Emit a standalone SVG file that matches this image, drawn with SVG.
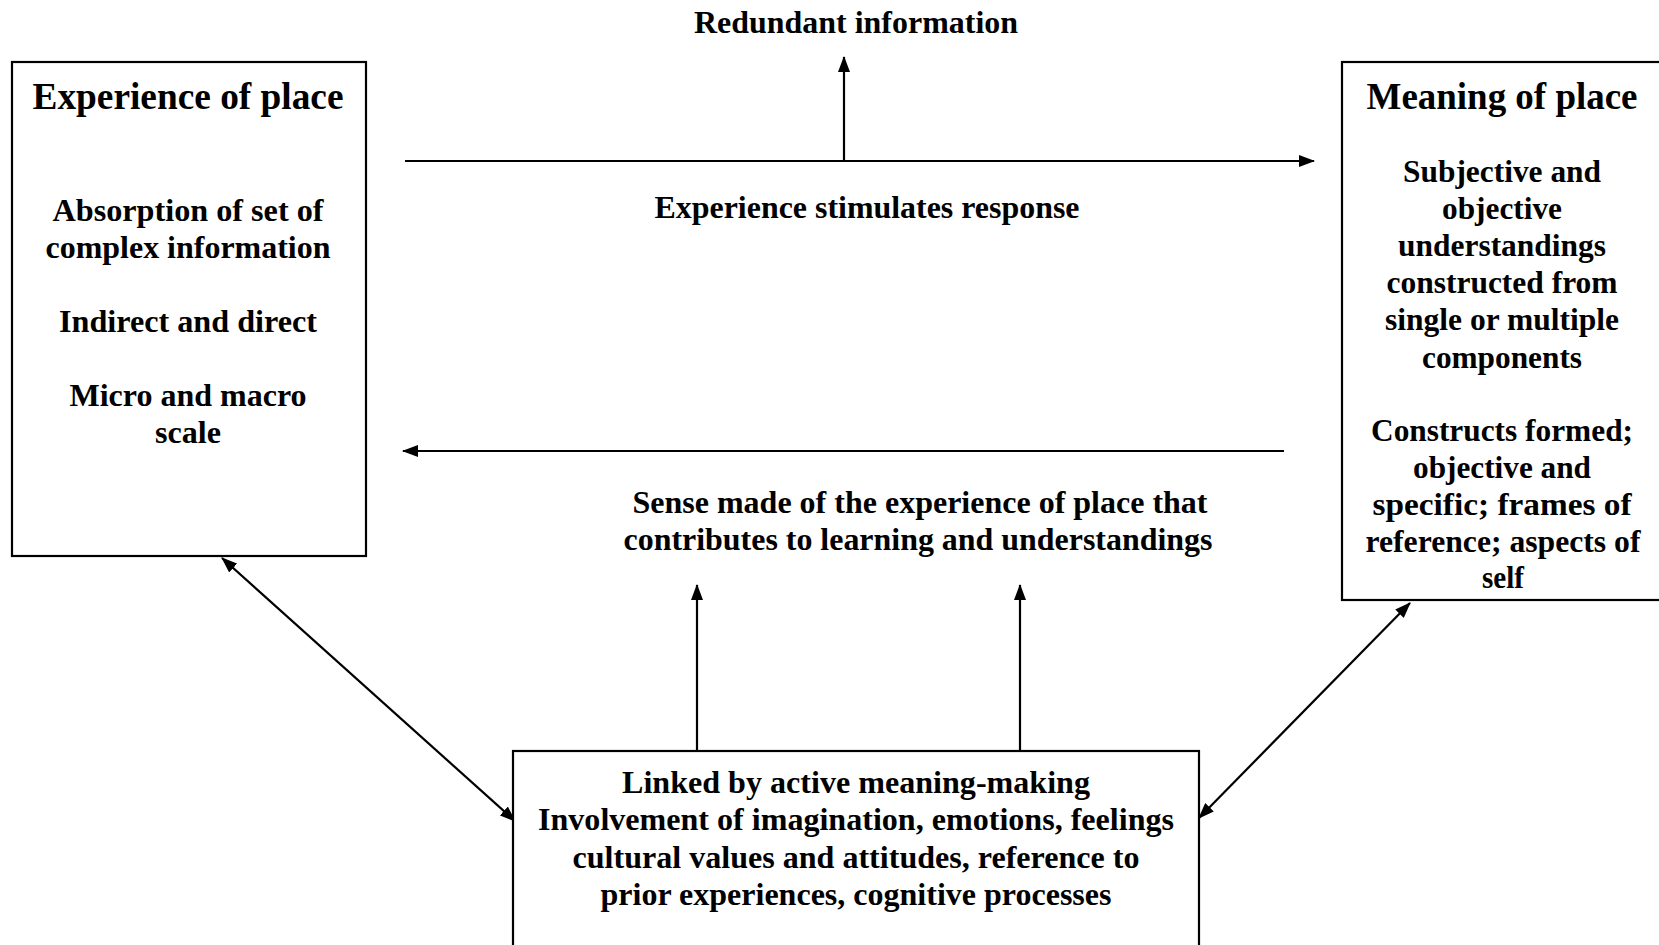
<svg xmlns="http://www.w3.org/2000/svg" width="1659" height="945" viewBox="0 0 1659 945">
<defs>
<marker id="ah" viewBox="0 0 16 12" refX="15" refY="6" markerWidth="16" markerHeight="12" markerUnits="userSpaceOnUse" orient="auto-start-reverse">
<path d="M0,0 L16,6 L0,12 Z" fill="#000"/>
</marker>
<style>
.box{fill:#fff;stroke:#000;stroke-width:2.2}
.ln{fill:none;stroke:#000;stroke-width:2.2}
text{font-family:"Liberation Serif","Times New Roman",serif;font-weight:bold;fill:#000;text-anchor:middle}
.t{font-size:37px}
.b{font-size:32px}
.c{font-size:31px}
</style>
</defs>
<rect width="1659" height="945" fill="#fff"/>
<g id="connectors">
<line class="ln" x1="405" y1="161" x2="1314" y2="161" marker-end="url(#ah)"/>
<line class="ln" x1="844" y1="161" x2="844" y2="57" marker-end="url(#ah)"/>
<line class="ln" x1="1284" y1="451" x2="403" y2="451" marker-end="url(#ah)"/>
<line class="ln" x1="697" y1="751" x2="697" y2="585" marker-end="url(#ah)"/>
<line class="ln" x1="1020" y1="751" x2="1020" y2="585" marker-end="url(#ah)"/>
<line class="ln" x1="222" y1="558" x2="515" y2="821" marker-start="url(#ah)" marker-end="url(#ah)"/>
<line class="ln" x1="1410" y1="603" x2="1199" y2="818" marker-start="url(#ah)" marker-end="url(#ah)"/>
</g>
<g id="label-redundant"><text class="c" x="856" y="33" textLength="324" lengthAdjust="spacingAndGlyphs">Redundant information</text></g>
<g id="label-stimulates"><text class="c" x="867" y="218" textLength="425" lengthAdjust="spacingAndGlyphs">Experience stimulates response</text></g>
<g id="label-sense">
<text class="c" x="920" y="513" textLength="575" lengthAdjust="spacingAndGlyphs">Sense made of the experience of place that</text>
<text class="c" x="918" y="550" textLength="589" lengthAdjust="spacingAndGlyphs">contributes to learning and understandings</text>
</g>
<g id="node-experience">
<rect class="box" x="12" y="62" width="354" height="494"/>
<text class="t" x="188" y="109" textLength="311" lengthAdjust="spacingAndGlyphs">Experience of place</text>
<text class="b" x="188" y="221" textLength="271" lengthAdjust="spacingAndGlyphs">Absorption of set of</text>
<text class="b" x="188" y="258" textLength="285" lengthAdjust="spacingAndGlyphs">complex information</text>
<text class="b" x="188" y="332" textLength="258" lengthAdjust="spacingAndGlyphs">Indirect and direct</text>
<text class="b" x="188" y="406" textLength="237" lengthAdjust="spacingAndGlyphs">Micro and macro</text>
<text class="b" x="188" y="443" textLength="66" lengthAdjust="spacingAndGlyphs">scale</text>
</g>
<g id="node-meaning">
<rect class="box" x="1342" y="62" width="330" height="538"/>
<text class="t" x="1502" y="109" textLength="271" lengthAdjust="spacingAndGlyphs">Meaning of place</text>
<text class="b" x="1502" y="182" textLength="198" lengthAdjust="spacingAndGlyphs">Subjective and</text>
<text class="b" x="1502" y="219" textLength="120" lengthAdjust="spacingAndGlyphs">objective</text>
<text class="b" x="1502" y="256" textLength="208" lengthAdjust="spacingAndGlyphs">understandings</text>
<text class="b" x="1502" y="293" textLength="231" lengthAdjust="spacingAndGlyphs">constructed from</text>
<text class="b" x="1502" y="330" textLength="234" lengthAdjust="spacingAndGlyphs">single or multiple</text>
<text class="b" x="1502" y="368" textLength="160" lengthAdjust="spacingAndGlyphs">components</text>
<text class="b" x="1502" y="441" textLength="262" lengthAdjust="spacingAndGlyphs">Constructs formed;</text>
<text class="b" x="1502" y="478" textLength="178" lengthAdjust="spacingAndGlyphs">objective and</text>
<text class="b" x="1502" y="515" textLength="259" lengthAdjust="spacingAndGlyphs">specific; frames of</text>
<text class="b" x="1503" y="552" textLength="275" lengthAdjust="spacingAndGlyphs">reference; aspects of</text>
<text class="b" x="1503" y="588" textLength="42" lengthAdjust="spacingAndGlyphs">self</text>
</g>
<g id="node-linked">
<rect class="box" x="513" y="751" width="686" height="200"/>
<text class="c" x="856" y="793" textLength="468" lengthAdjust="spacingAndGlyphs">Linked by active meaning-making</text>
<text class="c" x="856" y="830" textLength="636" lengthAdjust="spacingAndGlyphs">Involvement of imagination, emotions, feelings</text>
<text class="c" x="856" y="868" textLength="567" lengthAdjust="spacingAndGlyphs">cultural values and attitudes, reference to</text>
<text class="c" x="856" y="905" textLength="511" lengthAdjust="spacingAndGlyphs">prior experiences, cognitive processes</text>
</g>
</svg>
